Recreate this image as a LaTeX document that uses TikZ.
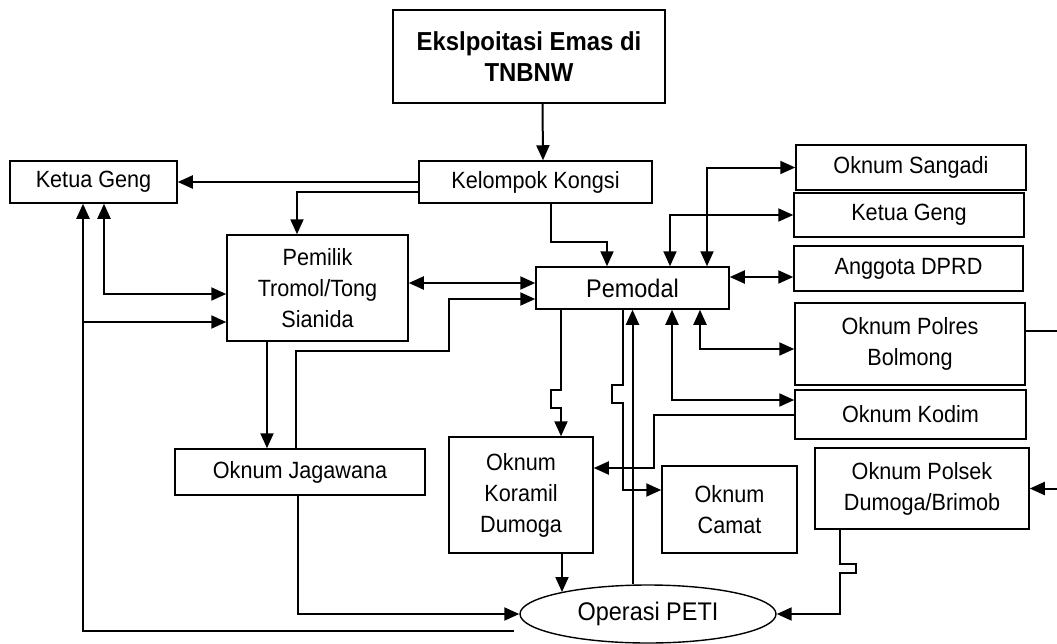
\documentclass[tikz,border=0pt]{standalone}
\usepackage{fontspec}
\setmainfont{Liberation Sans}[FakeStretch=0.92]
\usetikzlibrary{arrows.meta,shapes.geometric}
\begin{document}
\begin{tikzpicture}[x=1pt,y=-1pt,
  box/.style={draw, line width=1.5pt, inner sep=0pt, align=center, font=\fontsize{23.5}{31}\selectfont},
  ln/.style={line width=2pt},
  arr/.style={ln, -{Triangle[length=15pt,width=13pt]}},
  arr2/.style={ln, {Triangle[length=15pt,width=13pt]}-{Triangle[length=15pt,width=13pt]}},
]
\useasboundingbox (0,0) rectangle (1057,643);

\node[box, minimum width=272pt, minimum height=93pt, font=\fontsize{26}{31}\selectfont\bfseries] (title) at (529,56.5) {Ekslpoitasi Emas di\\TNBNW};
\node[box, minimum width=233pt, minimum height=42pt] (kongsi) at (535.5,182) {Kelompok Kongsi};
\node[box, minimum width=167pt, minimum height=42pt] (kgL) at (93.5,182) {Ketua Geng};
\node[box, minimum width=181pt, minimum height=106pt] (pemilik) at (317.5,288) {Pemilik\\Tromol/Tong\\Sianida};
\node[box, minimum width=193pt, minimum height=42pt, font=\fontsize{25.5}{31}\selectfont] (pemodal) at (632.5,288) {Pemodal};
\node[box, minimum width=230pt, minimum height=45pt] (sangadi) at (911,167.5) {Oknum Sangadi};
\node[box, minimum width=230pt, minimum height=44pt] (kgR) at (909,215) {Ketua Geng};
\node[box, minimum width=229pt, minimum height=45pt] (dprd) at (908.5,268.5) {Anggota DPRD};
\node[box, minimum width=230pt, minimum height=82pt] (polres) at (910,344) {Oknum Polres\\Bolmong};
\node[box, minimum width=231pt, minimum height=49pt] (kodim) at (910.5,414.5) {Oknum Kodim};
\node[box, minimum width=250pt, minimum height=46pt] (jagawana) at (300,472) {Oknum Jagawana};
\node[box, minimum width=144pt, minimum height=116pt] (koramil) at (521,495) {Oknum\\Koramil\\Dumoga};
\node[box, minimum width=135pt, minimum height=87pt] (camat) at (729.5,509.5) {Oknum\\Camat};
\node[box, minimum width=214pt, minimum height=81pt] (polsek) at (922,488.5) {Oknum Polsek\\Dumoga/Brimob};
\node[draw, ellipse, line width=1.4pt, inner sep=0pt, minimum width=256pt, minimum height=58pt, font=\fontsize{25.5}{29}\selectfont] (peti) at (648,614) {Operasi PETI};

\coordinate (loopend) at (514,631);
\coordinate (kp) at (562,592);
\coordinate (edgeA) at (1057,331);
\coordinate (edgeB) at (1057,488.5);

% top
\draw[arr] ([xshift=13.5pt]title.south) -- ([xshift=7.5pt]kongsi.north);
\draw[arr] (kongsi.west) -- (kgL.east);
\draw[arr] ([yshift=-10pt]kongsi.west) -| ([xshift=-20.5pt]pemilik.north);
\draw[arr2] ([xshift=10.5pt]kgL.south) |- ([yshift=-6pt]pemilik.west);
\draw[arr] (loopend) -- (83,631) -- ([xshift=-10.5pt]kgL.south);
\draw[arr] (83,322) -- ([yshift=-34pt]pemilik.west);
\draw[arr2] ([yshift=5pt]pemilik.east) -- ([yshift=5pt]pemodal.west);
\draw[arr] ([xshift=-4pt]jagawana.north) -- (296,351) -- (449,351) -- (449,299) -- ([yshift=-11pt]pemodal.west);
\draw[arr] ([xshift=15.5pt]kongsi.south) -- (551,242) -- (607,242) -- ([xshift=-25.5pt]pemodal.north);
\draw[arr] ([xshift=-50.5pt]pemilik.south) -- ([xshift=-33pt]jagawana.north);

% right side
\draw[arr2] ([xshift=74.5pt]pemodal.north) |- (sangadi.west);
\draw[arr2] ([xshift=37.5pt]pemodal.north) |- (kgR.west);
\draw[arr2] ([yshift=11pt]pemodal.east) -- ([yshift=-8.5pt]dprd.west);
\draw[arr2] ([xshift=67.5pt]pemodal.south) |- ([yshift=-5pt]polres.west);
\draw[arr2] ([xshift=39.5pt]pemodal.south) |- ([yshift=14.5pt]kodim.west);
\draw[arr] (kodim.west) -- (654,414.5) -- (654,468) -- ([yshift=27pt]koramil.east);
\draw[ln] ([yshift=13pt]polres.east) -- (edgeA);
\draw[arr] (edgeB) -- (polsek.east);

% lower
\draw[arr] ([xshift=-71.5pt]pemodal.south) -- (561,390) -- (551,390) -- (551,408) -- (561,408) -- ([xshift=40pt]koramil.north);
\draw[arr] ([xshift=-9.5pt]pemodal.south) -- (623,385) -- (612,385) -- (612,403) -- (623,403) -- (623,490) -- ([yshift=19.5pt]camat.west);
\draw[arr] (peti.north -| pemodal.south) -- (pemodal.south);
\draw[arr] ([xshift=41pt]koramil.south) -- (kp);
\draw[arr] ([xshift=-2pt]jagawana.south) |- (peti.west);
\draw[arr] ([xshift=-82pt]polsek.south) -- (840,564) -- (856,564) -- (856,573) -- (840,573) -- (840,614) -- (peti.east);
\end{tikzpicture}
\end{document}
